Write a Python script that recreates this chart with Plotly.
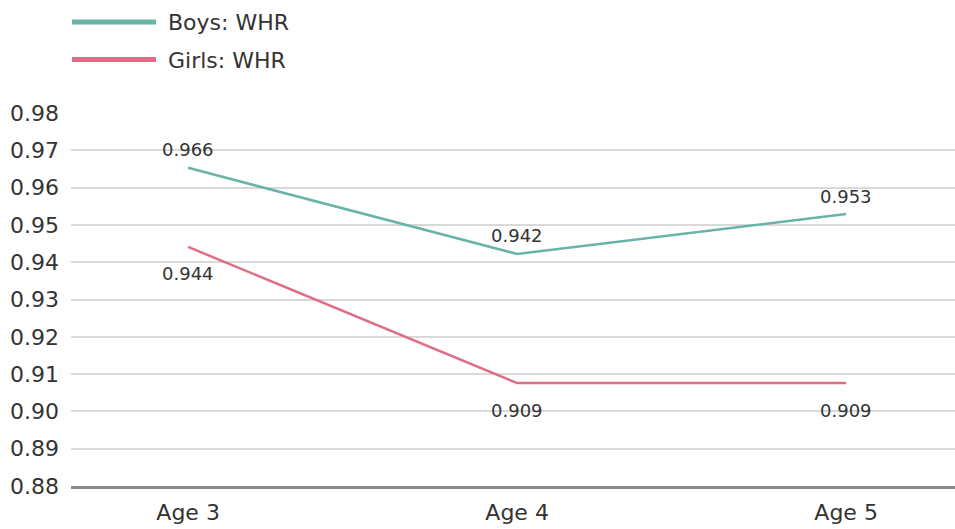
import plotly.graph_objects as go

categories = ["Age 3", "Age 4", "Age 5"]
boys_whr = [0.9653, 0.9422, 0.9529]
girls_whr = [0.9441, 0.9076, 0.9076]
boys_labels = ["0.966", "0.942", "0.953"]
girls_labels = ["0.944", "0.909", "0.909"]
y_ticks = [0.88, 0.89, 0.90, 0.91, 0.92, 0.93, 0.94, 0.95, 0.96, 0.97, 0.98]

BOYS_C = "#69b4a7"
GIRLS_C = "#e06d86"
TXT = "#333333"
FONT = "DejaVu Sans, Liberation Sans, Arial, sans-serif"

fig = go.Figure()
fig.add_trace(go.Scatter(
    x=categories, y=boys_whr, mode="lines",
    line=dict(color=BOYS_C, width=2.5), showlegend=False, cliponaxis=False))
fig.add_trace(go.Scatter(
    x=categories, y=girls_whr, mode="lines",
    line=dict(color=GIRLS_C, width=2.5), showlegend=False, cliponaxis=False))
# legend entries
fig.add_trace(go.Scatter(x=[None], y=[None], mode="lines", name="\u00a0Boys: WHR",
                         legendgroup="a", line=dict(color=BOYS_C, width=5)))
fig.add_trace(go.Scatter(x=[None], y=[None], mode="lines", name="\u00a0Girls: WHR",
                         legendgroup="b", line=dict(color=GIRLS_C, width=5)))

for cat, v, lab in zip(categories, boys_whr, boys_labels):
    fig.add_annotation(x=cat, y=v, text=lab, showarrow=False, yshift=18,
                       font=dict(size=18, color=TXT))
for cat, v, lab in zip(categories, girls_whr, girls_labels):
    fig.add_annotation(x=cat, y=v, text=lab, showarrow=False, yshift=-27,
                       font=dict(size=18, color=TXT))

fig.update_layout(
    width=955, height=529,
    margin=dict(l=71, r=0, t=113, b=43, autoexpand=False),
    paper_bgcolor="white", plot_bgcolor="white",
    font=dict(family=FONT, color=TXT, size=20),
    legend=dict(x=-0.0045, y=1.300, xanchor="left", yanchor="top",
                itemwidth=84, font=dict(size=22, color=TXT), tracegroupgap=6,
                bgcolor="rgba(0,0,0,0)"),
    xaxis=dict(type="category", range=[-0.356, 2.331], showgrid=False, ticks="",
               tickfont=dict(size=22, color=TXT), zeroline=False,
               showline=True, linecolor="#8a8a8a", linewidth=2.5,
               automargin=False, ticklabelstandoff=5),
    yaxis=dict(range=[0.88, 0.98], tickvals=y_ticks, tickformat=".2f",
               showgrid=True, gridcolor="#d9d9d9", gridwidth=1.5, ticks="",
               tickfont=dict(size=22, color=TXT), zeroline=False, showline=False,
               ticklabelstandoff=11, automargin=False),
)
fig.write_html("out.html", config={"displayModeBar": False},
               post_script="document.body.style.margin='0';")
